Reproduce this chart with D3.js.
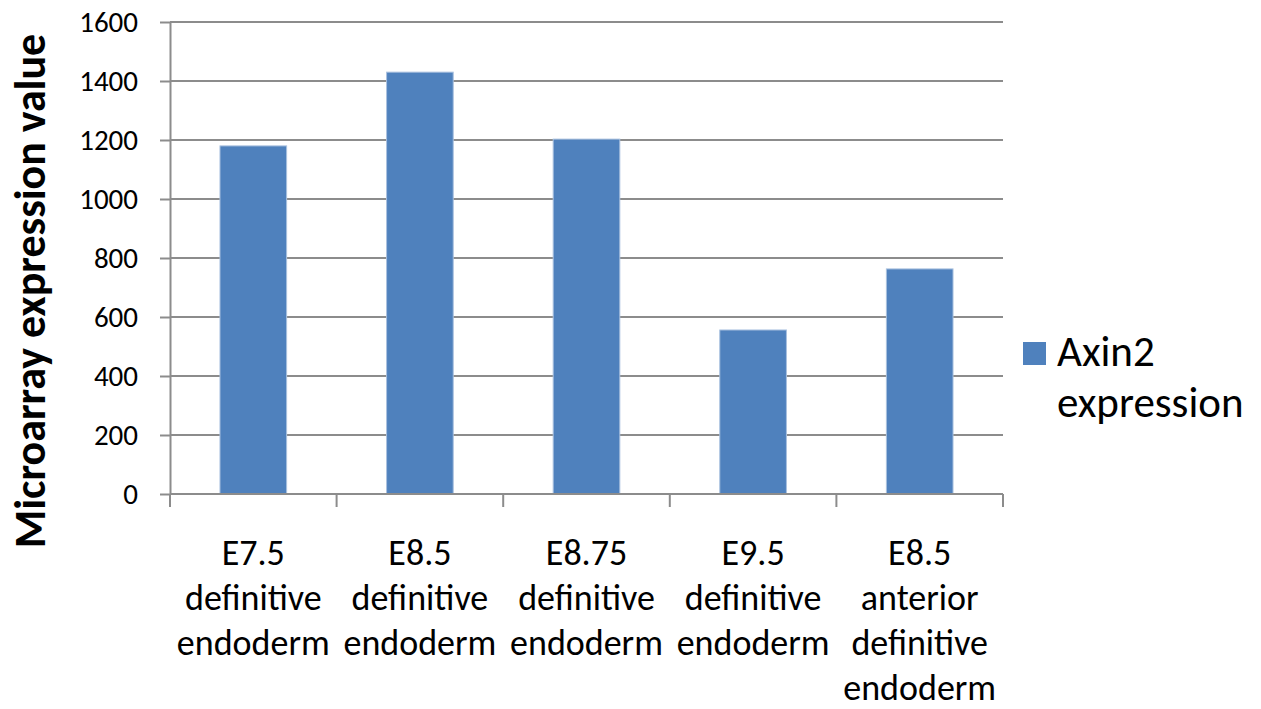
<!DOCTYPE html>
<html>
<head>
<meta charset="utf-8">
<script src="https://cdn.jsdelivr.net/npm/d3@7"></script>
<style>
  html, body { margin: 0; padding: 0; background: #ffffff; }
  svg { display: block; }
  text { font-family: Carlito, Calibri, Lato, sans-serif; fill: #000; }
</style>
</head>
<body>
<svg id="chart" width="1261" height="709"></svg>
<script>
// Axin2 microarray expression across endoderm stages
const categories = [
  ["E7.5", "definitive", "endoderm"],
  ["E8.5", "definitive", "endoderm"],
  ["E8.75", "definitive", "endoderm"],
  ["E9.5", "definitive", "endoderm"],
  ["E8.5", "anterior", "definitive", "endoderm"]
];
const axin2Values = [1180, 1430, 1203, 556, 763];
const yTicks = [0, 200, 400, 600, 800, 1000, 1200, 1400, 1600];
const seriesName = ["Axin2", "expression"];
const yTitle = "Microarray expression value";

const svg = d3.select("#chart");
const plot = { left: 170, right: 1003, top: 22, bottom: 494 };
const barColor = "#4f81bd";
const gridColor = "#8c8c8c";

const x = d3.scaleBand()
  .domain(d3.range(categories.length))
  .range([plot.left, plot.right])
  .padding(0);
const y = d3.scaleLinear().domain([0, 1600]).range([plot.bottom, plot.top]);

// horizontal gridlines
svg.append("g")
  .selectAll("line")
  .data(yTicks)
  .join("line")
  .attr("x1", plot.left).attr("x2", plot.right)
  .attr("y1", d => y(d)).attr("y2", d => y(d))
  .attr("stroke", gridColor).attr("stroke-width", 2);

// y axis
const yAxis = svg.append("g")
  .attr("transform", `translate(${plot.left},0)`)
  .call(d3.axisLeft(y)
    .tickValues(yTicks)
    .tickFormat(d3.format("d"))
    .tickSize(10).tickSizeOuter(0).tickPadding(22));
yAxis.select(".domain").attr("stroke", gridColor).attr("stroke-width", 2);
yAxis.selectAll(".tick line").attr("stroke", gridColor).attr("stroke-width", 2);
yAxis.selectAll(".tick text")
  .attr("font-size", 29)
  .attr("font-family", "Carlito, Calibri, Lato, sans-serif")
  .attr("fill", "#000");

// bars: 150% gap width
const barW = x.bandwidth() * 0.4;
svg.append("g")
  .selectAll("rect")
  .data(axin2Values)
  .join("rect")
  .attr("x", (d, i) => x(i) + (x.bandwidth() - barW) / 2)
  .attr("width", barW)
  .attr("y", d => y(d))
  .attr("height", d => y(0) - y(d))
  .attr("fill", barColor)
  .attr("stroke", "#a9c1df")
  .attr("stroke-width", 1);

// x axis with ticks at category boundaries
const xAxis = svg.append("g");
xAxis.append("line")
  .attr("x1", plot.left).attr("x2", plot.right)
  .attr("y1", y(0)).attr("y2", y(0))
  .attr("stroke", gridColor).attr("stroke-width", 2);
const bounds = d3.range(categories.length + 1).map(i => i < categories.length ? x(i) : plot.right);
xAxis.selectAll("line.tick")
  .data(bounds)
  .join("line")
  .attr("class", "tick")
  .attr("x1", d => d).attr("x2", d => d)
  .attr("y1", y(0)).attr("y2", y(0) + 13)
  .attr("stroke", gridColor).attr("stroke-width", 2);

// category labels
const labels = svg.append("g")
  .selectAll("text")
  .data(categories)
  .join("text")
  .attr("text-anchor", "middle")
  .attr("font-size", 36)
  .attr("x", (d, i) => x(i) + x.bandwidth() / 2)
  .attr("y", 565);
labels.selectAll("tspan")
  .data(d => d)
  .join("tspan")
  .attr("x", function () { return d3.select(this.parentNode).attr("x"); })
  .attr("dy", (d, i) => i === 0 ? 0 : 45)
  .text(d => d);

// y axis title
svg.append("text")
  .attr("transform", "translate(45,291) rotate(-90)")
  .attr("text-anchor", "middle")
  .attr("font-size", 44)
  .attr("font-weight", "bold")
  .text(yTitle);

// legend
const legend = svg.append("g");
legend.append("rect")
  .attr("x", 1023).attr("y", 342)
  .attr("width", 23).attr("height", 23)
  .attr("fill", barColor);
legend.append("text")
  .attr("x", 1057).attr("y", 366)
  .attr("font-size", 43)
  .selectAll("tspan")
  .data(seriesName)
  .join("tspan")
  .attr("x", 1057)
  .attr("dy", (d, i) => i === 0 ? 0 : 51)
  .text(d => d);
</script>
</body>
</html>
